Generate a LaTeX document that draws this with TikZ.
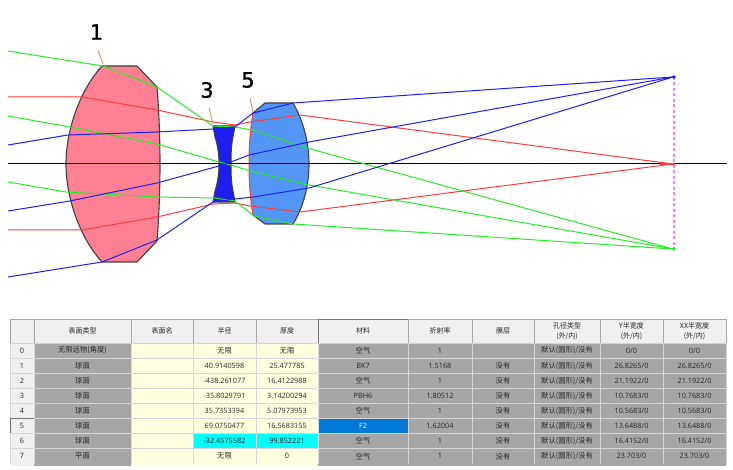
\documentclass[tikz,border=0pt]{standalone}
\usepackage{xcolor}
\usepackage{fontspec}
\usepackage{tikz}
\setmainfont{Open Sans}
\newfontfamily\cjk{Noto Sans CJK SC}
\newfontfamily\lblfont[FakeBold=1.2]{DejaVu Sans}
\usetikzlibrary{positioning,calc}

\definecolor{lensred}{RGB}{255,128,146}
\definecolor{lensblue}{RGB}{84,150,245}
\definecolor{lensdark}{RGB}{64,64,64}
\definecolor{rayred}{RGB}{255,60,60}
\definecolor{raygreen}{RGB}{40,235,40}
\definecolor{rayblue}{RGB}{30,30,240}
\definecolor{leader}{RGB}{214,150,90}
\definecolor{headgray}{RGB}{240,240,240}
\definecolor{cellgray}{RGB}{166,166,166}
\definecolor{cellyellow}{RGB}{255,255,224}
\definecolor{gridgray}{RGB}{214,214,214}
\definecolor{selblue}{RGB}{0,120,215}
\definecolor{selcyan}{RGB}{0,255,255}
\definecolor{planepink}{RGB}{255,120,255}

\tikzset{
    lens/.style={draw=lensdark, line width=1.1pt, line join=round},
    ray/.style={line width=1pt},
    lbl/.style={font=\lblfont\fontsize{21}{24}\selectfont, inner sep=0pt},
    cell/.style={draw=gridgray, line width=0.6pt, inner sep=0pt, text=black!85,
        font=\fontsize{7.3}{8.5}\selectfont, align=center},
    headcell/.style={cell, draw=black!35, fill=headgray, font=\cjk\fontsize{7}{9.5}\selectfont},
    % highlighted cells of the table
    cell 5 0/.style={draw=black!55},
    cell 5 5/.style={fill=selblue, text=white},
    cell 6 3/.style={fill=selcyan},
    cell 6 4/.style={fill=selcyan},
    cell h 5/.style={draw=black!55}
}

% one row: number, surface, radius, thickness, material, index, coating, semi width
\newcommand{\tablerow}[8]{
    \pgfmathsetmacro{\yc}{343+15.1*(#1+0.5)}
    \foreach \c/\xa/\xb/\col/\txt in {0/10/34/headgray/#1, 1/34/131/cellgray/{\cjk #2},
        2/131/193/cellyellow/{}, 3/193/256/cellyellow/#3, 4/256/318/cellyellow/#4,
        5/318/408/cellgray/{#5}, 6/408/472/cellgray/#6, 7/472/534/cellgray/{\cjk #7},
        8/534/600/cellgray/{\cjk 默认(圆形)/没有}, 9/600/663/cellgray/{#8/0},
        10/663/726/cellgray/{#8/0}}
    {
        \node[cell, fill=\col, minimum width={(\xb-\xa)*1pt}, minimum height=15.1pt,
            cell #1 \c/.try] (c_#1_\c) at ({(\xa+\xb)/2},\yc) {\txt};
    }
}

\begin{document}
\begin{tikzpicture}[x=1pt,y=-1pt]
    \useasboundingbox (0,0) rectangle (733,470);

    % lens elements
    \draw[lens, fill=lensred] (102,66) -- (137,66) -- (157,87)
        .. controls (159,112) and (160,138) .. (160,164)
        .. controls (160,190) and (159,216) .. (157,241) -- (137,262) -- (102,262)
        .. controls (80,238) and (66,198) .. (66,164)
        .. controls (66,130) and (80,90) .. (102,66) -- cycle;
    \draw[lens, fill=rayblue] (213,126) -- (235,126) -- (233,137)
        .. controls (231,146) and (231,155) .. (231,164)
        .. controls (231,173) and (231,182) .. (233,191) -- (235,202) -- (213,202) -- (215,191)
        .. controls (218,182) and (219,173) .. (219,164)
        .. controls (219,155) and (218,146) .. (215,137) -- cycle;
    \fill[lensblue] (253,113) -- (265,103) -- (293,103)
        .. controls (303,120) and (309,142) .. (309,164)
        .. controls (309,186) and (303,208) .. (293,224) -- (265,224) -- (253,215)
        .. controls (250,198) and (249,181) .. (249,164)
        .. controls (249,147) and (250,130) .. (253,113) -- cycle;
    \draw[lens] (253,113) -- (265,103) -- (293,103)
        .. controls (303,120) and (309,142) .. (309,164)
        .. controls (309,186) and (303,208) .. (293,224) -- (265,224) -- (253,215);
    \draw[rayred, ray] (253,113) .. controls (250,130) and (249,147) .. (249,164)
        .. controls (249,181) and (250,198) .. (253,215);

    % optical axis and image plane
    \draw[black, line width=1pt] (8,164) -- (727,164);
    \draw[planepink, line width=1.3pt, dash pattern=on 3pt off 2.5pt] (674,77) -- (674,249);

    % rays
    \draw[rayred, ray] (8,97) -- (82,97) -- (157,110) -- (213,122) -- (235,125) -- (250,122) -- (300,115) -- (673,164);
    \draw[rayred, ray] (8,230) -- (82,230) -- (157,217) -- (213,204) -- (235,203) -- (250,206) -- (300,212) -- (673,164);
    \draw[rayred, line width=1.8pt] (660,164) -- (675,164);
    \draw[raygreen, ray] (8,51) -- (103,66) -- (157,87) -- (213,126) -- (235,127) -- (252,130) -- (307,148) -- (673,249);
    \draw[raygreen, ray] (8,116) -- (70,127) -- (157,144) -- (219,162) -- (231,165) -- (250,171) -- (309,185) -- (673,249);
    \draw[raygreen, ray] (8,182) -- (66,192) -- (157,197) -- (215,198) -- (235,201) -- (254,216) -- (293,224) -- (673,249);
    \draw[rayblue, ray] (8,145) -- (68,135) -- (157,132) -- (213,129) -- (235,127) -- (253,113) -- (293,103) -- (673,77);
    \draw[rayblue, ray] (8,211) -- (70,201) -- (157,183) -- (219,166) -- (231,162) -- (249,155) -- (309,142) -- (673,77);
    \draw[rayblue, ray] (8,277) -- (102,262) -- (157,240) -- (213,202) -- (235,199) -- (253,197) -- (309,188) -- (673,77);
    \fill[rayblue] (674,77) circle (1.8);
    \fill[raygreen] (674,249) circle (1.8);

    % surface labels
    \node[lbl] (lbl_one) at (96.5,32) {1};
    \node[lbl] (lbl_three) at (207,90) {3};
    \node[lbl] (lbl_five) at (248,80) {5};
    \coordinate (lead_one_a) at (98,50);
    \coordinate (lead_one_b) at (103,64);
    \coordinate (lead_three_a) at (209,108);
    \coordinate (lead_three_b) at (213,124);
    \coordinate (lead_five_a) at (250,98);
    \coordinate (lead_five_b) at (253,112);
    \draw[leader, line width=0.9pt] (lead_one_a) -- (lead_one_b);
    \draw[leader, line width=0.9pt] (lead_three_a) -- (lead_three_b);
    \draw[leader, line width=0.9pt] (lead_five_a) -- (lead_five_b);

    % table header
    \foreach \c/\xa/\xb/\txt in {0/10/34/{}, 1/34/131/表面类型, 2/131/193/表面名, 3/193/256/半径, 4/256/318/厚度,
        5/318/408/材料, 6/408/472/折射率, 7/472/534/膜层, 8/534/600/{孔径类型\\(外/内)},
        9/600/663/{Y半宽度\\(外/内)}, 10/663/726/{XX半宽度\\(外/内)}}
    {
        \node[headcell, minimum width={(\xb-\xa)*1pt}, minimum height=24pt,
            cell h \c/.try] (head_\c) at ({(\xa+\xb)/2},331) {\txt};
    }

    % table rows
    \tablerow{0}{无限远物(角度)}{\cjk 无限}{\cjk 无限}{\cjk 空气}{1}{}{0}
    \tablerow{1}{球面}{40.9140598}{25.477785}{BK7}{1.5168}{没有}{26.8265}
    \tablerow{2}{球面}{-438.261077}{16.4122988}{\cjk 空气}{1}{没有}{21.1922}
    \tablerow{3}{球面}{-35.8029791}{3.14200294}{PBH6}{1.80512}{没有}{10.7683}
    \tablerow{4}{球面}{35.7353394}{5.07973953}{\cjk 空气}{1}{没有}{10.5683}
    \tablerow{5}{球面}{69.0750477}{16.5683155}{F2}{1.62004}{没有}{13.6488}
    \tablerow{6}{球面}{-32.4575582}{99.852221}{\cjk 空气}{1}{没有}{16.4152}
    \tablerow{7}{平面}{\cjk 无限}{0}{\cjk 空气}{1}{没有}{23.703}

    % cut off last row
    \foreach \c/\xa/\xb/\col in {0/10/34/headgray, 1/34/131/cellgray, 2/131/193/cellyellow, 3/193/256/cellyellow,
        4/256/318/cellyellow, 5/318/408/cellgray, 6/408/472/cellgray, 7/472/534/cellgray,
        8/534/600/cellgray, 9/600/663/cellgray, 10/663/726/cellgray}
    {
        \node[cell, draw=none, fill=\col, minimum width={(\xb-\xa)*1pt}, minimum height=2.5pt] (c_8_\c) at ({(\xa+\xb)/2},465) {};
    }
\end{tikzpicture}
\end{document}
